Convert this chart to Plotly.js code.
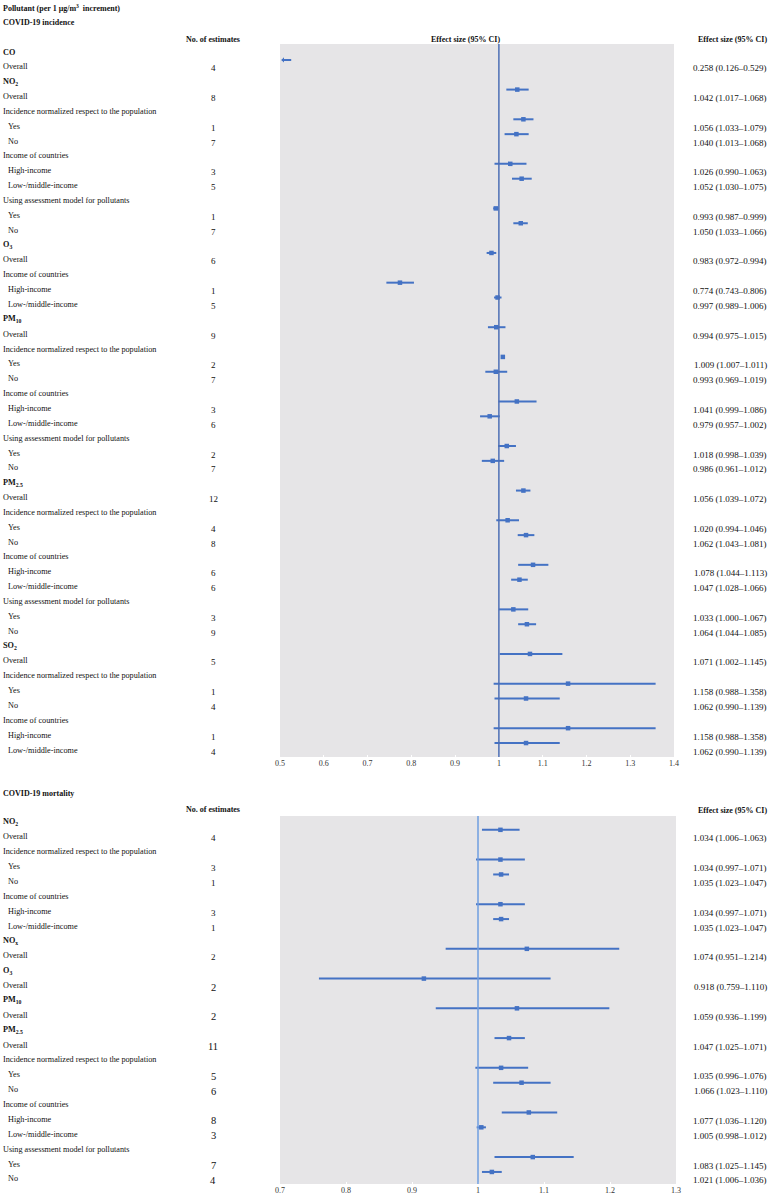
<!DOCTYPE html>
<html><head><meta charset="utf-8">
<script src="https://cdn.plot.ly/plotly-3.0.1.min.js"></script>
<style>html,body{margin:0;padding:0;background:#fff}</style>
</head><body><div id="chart" style="width:773px;height:1199px"></div>
<script>
// ---------- DATA: COVID-19 incidence ----------
const incLabels = ["CO","Overall","NO<sub>2</sub>","Overall",
 "Incidence normalized respect to the population","Yes","No",
 "Income of countries","High-income","Low-/middle-income",
 "Using assessment model for pollutants","Yes","No",
 "O<sub>3</sub>","Overall","Income of countries","High-income","Low-/middle-income",
 "PM<sub>10</sub>","Overall","Incidence normalized respect to the population","Yes","No",
 "Income of countries","High-income","Low-/middle-income",
 "Using assessment model for pollutants","Yes","No",
 "PM<sub>2.5</sub>","Overall","Incidence normalized respect to the population","Yes","No",
 "Income of countries","High-income","Low-/middle-income",
 "Using assessment model for pollutants","Yes","No",
 "SO<sub>2</sub>","Overall","Incidence normalized respect to the population","Yes","No",
 "Income of countries","High-income","Low-/middle-income"];
const incN   = [null,4,null,8,null,1,7,null,3,5,null,1,7,null,6,null,1,5,null,9,null,2,7,null,3,6,null,2,7,null,12,null,4,8,null,6,6,null,3,9,null,5,null,1,4,null,1,4];
const incEst = [null,0.258,null,1.042,null,1.056,1.040,null,1.026,1.052,null,0.993,1.050,null,0.983,null,0.774,0.997,null,0.994,null,1.009,0.993,null,1.041,0.979,null,1.018,0.986,null,1.056,null,1.020,1.062,null,1.078,1.047,null,1.033,1.064,null,1.071,null,1.158,1.062,null,1.158,1.062];
const incLo  = [null,0.126,null,1.017,null,1.033,1.013,null,0.990,1.030,null,0.987,1.033,null,0.972,null,0.743,0.989,null,0.975,null,1.007,0.969,null,0.999,0.957,null,0.998,0.961,null,1.039,null,0.994,1.043,null,1.044,1.028,null,1.000,1.044,null,1.002,null,0.988,0.990,null,0.988,0.990];
const incHi  = [null,0.529,null,1.068,null,1.079,1.068,null,1.063,1.075,null,0.999,1.066,null,0.994,null,0.806,1.006,null,1.015,null,1.011,1.019,null,1.086,1.002,null,1.039,1.012,null,1.072,null,1.046,1.081,null,1.113,1.066,null,1.067,1.085,null,1.145,null,1.358,1.139,null,1.358,1.139];
const incTicks = [0.5,0.6,0.7,0.8,0.9,1,1.1,1.2,1.3,1.4];

// ---------- DATA: COVID-19 mortality ----------
const mortLabels = ["NO<sub>2</sub>","Overall","Incidence normalized respect to the population","Yes","No",
 "Income of countries","High-income","Low-/middle-income",
 "NO<sub>x</sub>","Overall","O<sub>3</sub>","Overall","PM<sub>10</sub>","Overall",
 "PM<sub>2.5</sub>","Overall","Incidence normalized respect to the population","Yes","No",
 "Income of countries","High-income","Low-/middle-income",
 "Using assessment model for pollutants","Yes","No"];
const mortN   = [null,4,null,3,1,null,3,1,null,2,null,2,null,2,null,11,null,5,6,null,8,3,null,7,4];
const mortEst = [null,1.034,null,1.034,1.035,null,1.034,1.035,null,1.074,null,0.918,null,1.059,null,1.047,null,1.035,1.066,null,1.077,1.005,null,1.083,1.021];
const mortLo  = [null,1.006,null,0.997,1.023,null,0.997,1.023,null,0.951,null,0.759,null,0.936,null,1.025,null,0.996,1.023,null,1.036,0.998,null,1.025,1.006];
const mortHi  = [null,1.063,null,1.071,1.047,null,1.071,1.047,null,1.214,null,1.110,null,1.199,null,1.071,null,1.076,1.110,null,1.120,1.012,null,1.145,1.036];
const mortTicks = [0.7,0.8,0.9,1,1.1,1.2,1.3];

const pollutants = ["CO","NO<sub>2</sub>","NO<sub>x</sub>","O<sub>3</sub>","PM<sub>10</sub>","PM<sub>2.5</sub>","SO<sub>2</sub>"];

// ---------- RENDER ----------
const W = 773, H = 1199;
const px = x => x / W;
const py = y => 1 - y / H;
const BLUE = '#4472C4';
const SERIF = 'Liberation Serif, Times New Roman, serif';
const MOFF = 0.47;   // markers sit slightly above text row

const traces = [];
const annotations = [];
const shapes = [];

function panel(labels, nArr, est, lo, hi, xax, yax, xRange, refColor, bigFrom) {
  const xs = [], ys = [], ep = [], em = [];
  const yref = yax === 'yaxis' ? 'y' : 'y2';
  const xref = xax === 'xaxis' ? 'x' : 'x2';
  labels.forEach((lab, i) => {
    const hasVal = est[i] !== null;
    const bold = pollutants.includes(lab);
    const indent = hasVal && lab !== 'Overall';
    annotations.push({xref:'paper', yref:yref, x:px(indent ? 6 : 1), y:i, xanchor:'left', yanchor:'middle',
      text: bold ? '<b>' + lab + '</b>' : lab, showarrow:false,
      font:{family:SERIF, size:8.2, color:'#111'}});
    if (hasVal) {
      const big = bigFrom !== null && i >= bigFrom;
      annotations.push({xref:'paper', yref:yref, x:px(213), y:i, yshift:-1.5, xanchor:'center', yanchor:'middle',
        text:String(nArr[i]), showarrow:false, font:{family:SERIF, size: big ? 10.5 : 9, color:'#111'}});
      annotations.push({xref:'paper', yref:yref, x:px(769), y:i, yshift:-1.5, xanchor:'right', yanchor:'middle',
        text: est[i].toFixed(3) + ' (' + lo[i].toFixed(3) + '–' + hi[i].toFixed(3) + ')', showarrow:false,
        font:{family:SERIF, size:9, color:'#111'}});
      if (est[i] >= xRange[0] && est[i] <= xRange[1]) {
        xs.push(est[i]); ys.push(i - MOFF); ep.push(hi[i] - est[i]); em.push(est[i] - lo[i]);
      } else if (est[i] < xRange[0]) {
        // out of range: line from visible CI end with arrowhead at the axis minimum
        annotations.push({xref:xref, yref:yref, axref:xref, ayref:yref,
          x:xRange[0] + 0.003, y:i - MOFF, ax:hi[i], ay:i - MOFF, text:'', showarrow:true,
          arrowhead:1, arrowsize:0.45, arrowwidth:2, arrowcolor:BLUE, standoff:0, startstandoff:0});
      }
    }
  });
  traces.push({type:'scatter', mode:'markers', x:xs, y:ys, xaxis:xref, yaxis:yref,
    marker:{symbol:'square', size:4.5, color:BLUE},
    error_x:{type:'data', symmetric:false, array:ep, arrayminus:em, thickness:2, width:0, color:BLUE},
    hoverinfo:'skip', showlegend:false});
  shapes.push({type:'line', xref:xref, yref:yref + ' domain', x0:1, x1:1, y0:0, y1:1,
    line:{color:refColor, width:1.5}, layer:'above'});
}

panel(incLabels, incN, incEst, incLo, incHi, 'xaxis', 'yaxis', [incTicks[0], incTicks[incTicks.length-1]], '#4d6fb5', null);
panel(mortLabels, mortN, mortEst, mortLo, mortHi, 'xaxis2', 'yaxis2', [mortTicks[0], mortTicks[mortTicks.length-1]], '#6f9ee0', 10);

// headers
const hdr = (text, x, y, anchor, size) => annotations.push({xref:'paper', yref:'paper', x:px(x), y:py(y),
  xanchor:anchor, yanchor:'middle', text:'<b>' + text + '</b>', showarrow:false,
  font:{family:SERIF, size:size || 8, color:'#111'}});
hdr('Pollutant (per 1 μg/m<sup>3</sup>  increment)', 1, 8, 'left');
hdr('COVID-19 incidence', 1, 22, 'left');
hdr('No. of estimates', 213, 40, 'center');
hdr('Effect size (95% CI)', 465, 39, 'center');
hdr('Effect size (95% CI)', 769, 39, 'right');
hdr('COVID-19 mortality', 1, 793, 'left');
hdr('No. of estimates', 213, 809, 'center');
hdr('Effect size (95% CI)', 769, 810, 'right');

const axCommon = {showgrid:false, zeroline:false, showline:false, ticks:'inside', ticklen:2, tickcolor:'#ffffff',
  tickfont:{family:SERIF, size:8, color:'#333'}, fixedrange:true};

const layout = {
  width:W, height:H, margin:{l:0, r:0, t:0, b:0},
  paper_bgcolor:'#ffffff', plot_bgcolor:'#e6e5e7', showlegend:false,
  xaxis: Object.assign({}, axCommon, {domain:[px(280), px(674)], range:[incTicks[0], incTicks[incTicks.length-1]],
    tickvals:incTicks, anchor:'y'}),
  yaxis: {domain:[py(757), py(44)], range:[incLabels.length - 0.53, -0.54], visible:false, fixedrange:true, anchor:'x'},
  xaxis2: Object.assign({}, axCommon, {domain:[px(280), px(676)], range:[mortTicks[0], mortTicks[mortTicks.length-1]],
    tickvals:mortTicks, anchor:'y2'}),
  yaxis2: {domain:[py(1184), py(816)], range:[mortLabels.length - 0.66, -0.40], visible:false, fixedrange:true, anchor:'x2'},
  annotations: annotations, shapes: shapes
};

Plotly.newPlot('chart', traces, layout, {displayModeBar:false, staticPlot:true});
</script></body></html>
